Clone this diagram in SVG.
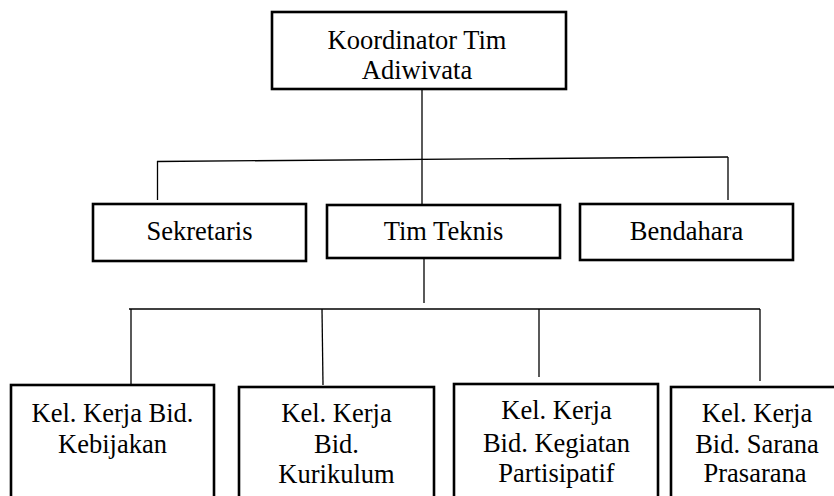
<svg xmlns="http://www.w3.org/2000/svg" width="834" height="496" viewBox="0 0 834 496">
<style>
  .box { fill: #ffffff; stroke: #000000; stroke-width: 2.6; }
  .lbl { font-family: 'Liberation Serif', 'Times New Roman', serif; font-size: 26.5px; fill: #000000; text-anchor: middle; }
  .con { stroke: #000000; stroke-width: 1.3; fill: none; }
</style>
<rect x="0" y="0" width="834" height="496" fill="#ffffff"/>
<g id="connectors">
  <line class="con" x1="422" y1="89" x2="422" y2="205"/>
  <line class="con" x1="157" y1="161.5" x2="728" y2="157"/>
  <line class="con" x1="157.5" y1="161" x2="157.5" y2="200"/>
  <line class="con" x1="728" y1="157" x2="728" y2="200"/>
  <line class="con" x1="424" y1="258" x2="424" y2="303"/>
  <line class="con" x1="129" y1="309" x2="760" y2="309"/>
  <line class="con" x1="131" y1="309" x2="131" y2="390"/>
  <line class="con" x1="322" y1="309" x2="323" y2="385"/>
  <line class="con" x1="539" y1="309" x2="539" y2="377"/>
  <line class="con" x1="760" y1="309" x2="760" y2="381"/>
</g>
<g id="koordinator">
  <rect class="box" x="272" y="12" width="294" height="77"/>
  <text class="lbl" x="417" y="49">Koordinator Tim</text>
  <text class="lbl" x="417" y="79">Adiwivata</text>
</g>
<g id="sekretaris">
  <rect class="box" x="93" y="204" width="213" height="57"/>
  <text class="lbl" x="199.5" y="240">Sekretaris</text>
</g>
<g id="tim-teknis">
  <rect class="box" x="327" y="205" width="233" height="53"/>
  <text class="lbl" x="443.5" y="240">Tim Teknis</text>
</g>
<g id="bendahara">
  <rect class="box" x="580" y="204" width="213" height="56"/>
  <text class="lbl" x="686.5" y="240">Bendahara</text>
</g>
<g id="kebijakan">
  <rect class="box" x="11" y="385" width="203" height="130"/>
  <text class="lbl" x="112.5" y="422">Kel. Kerja Bid.</text>
  <text class="lbl" x="112.5" y="453">Kebijakan</text>
</g>
<g id="kurikulum">
  <rect class="box" x="239" y="387" width="195" height="130"/>
  <text class="lbl" x="336.5" y="422">Kel. Kerja</text>
  <text class="lbl" x="336.5" y="453">Bid.</text>
  <text class="lbl" x="336.5" y="483">Kurikulum</text>
</g>
<g id="partisipatif">
  <rect class="box" x="454" y="384" width="204" height="130"/>
  <text class="lbl" x="556.5" y="419">Kel. Kerja</text>
  <text class="lbl" x="556.5" y="452">Bid. Kegiatan</text>
  <text class="lbl" x="556.5" y="482">Partisipatif</text>
</g>
<g id="sarana">
  <rect class="box" x="671" y="387" width="174" height="130"/>
  <text class="lbl" x="757" y="422">Kel. Kerja</text>
  <text class="lbl" x="757" y="453">Bid. Sarana</text>
  <text class="lbl" x="755" y="482">Prasarana</text>
</g>
</svg>
